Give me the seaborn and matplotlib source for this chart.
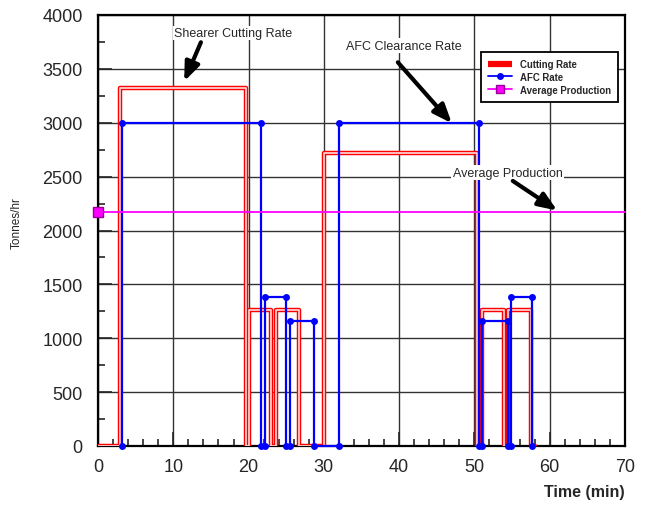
import numpy as np
import pandas as pd
import seaborn as sns
import matplotlib.pyplot as plt
from matplotlib.lines import Line2D
from matplotlib.ticker import MultipleLocator

# Shearer cutting rate (step trace, tonnes/hr)
cut_time = [0, 2.9, 2.9, 19.7, 19.7, 20.1, 20.1, 23.0, 23.0, 23.7, 23.7, 26.7, 26.7,
            30.0, 30.0, 50.3, 50.3, 51.05, 51.05, 53.95, 53.95, 54.5, 54.5, 57.5, 57.5, 58.0]
cut_rate = [0, 0, 3320, 3320, 0, 0, 1265, 1265, 0, 0, 1265, 1265, 0,
            0, 2720, 2720, 0, 0, 1265, 1265, 0, 0, 1265, 1265, 0, 0]

# AFC clearance rate (step trace, tonnes/hr)
afc_time = [3.2, 3.2, 21.7, 21.7, 22.2, 22.2, 25.0, 25.0, 25.45, 25.45, 28.75, 28.75,
            32.0, 32.0, 50.55, 50.55, 51.05, 51.05, 54.4, 54.4, 54.85, 54.85, 57.6, 57.6]
afc_rate = [0, 3000, 3000, 0, 0, 1380, 1380, 0, 0, 1163, 1163, 0,
            0, 3000, 3000, 0, 0, 1163, 1163, 0, 0, 1380, 1380, 0]

# Average production
avg_time = [0, 70]
avg_rate = [2175, 2175]

cut_df = pd.DataFrame({'Time': cut_time, 'Rate': cut_rate})
afc_df = pd.DataFrame({'Time': afc_time, 'Rate': afc_rate})
avg_df = pd.DataFrame({'Time': avg_time, 'Rate': avg_rate})

sns.set_style('ticks')
plt.rcParams['font.family'] = ['Liberation Sans', 'DejaVu Sans']

fig = plt.figure(figsize=(6.47, 5.06), dpi=100)
ax = fig.add_axes([98 / 647, 1 - 447 / 506, (625 - 98) / 647, (447 - 16) / 506])

# cutting rate drawn as a hollow red line (red with white core)
sns.lineplot(data=cut_df, x='Time', y='Rate', sort=False, estimator=None,
             color='#FF0000', lw=3.2, ax=ax, zorder=3)
sns.lineplot(data=cut_df, x='Time', y='Rate', sort=False, estimator=None,
             color='white', lw=1.3, alpha=0.8, ax=ax, zorder=3.1)

sns.lineplot(data=afc_df, x='Time', y='Rate', sort=False, estimator=None,
             color='#0000FF', lw=1.6, marker='o', markersize=5, markeredgewidth=0,
             ax=ax, zorder=4, clip_on=False)

sns.lineplot(data=avg_df, x='Time', y='Rate', sort=False, estimator=None,
             color='#FF00FF', lw=1.3, marker='s', markersize=7, markevery=[0],
             markerfacecolor='#FF00FF', markeredgecolor='#990099', markeredgewidth=1,
             ax=ax, zorder=5, clip_on=False)

ax.set_xlim(0, 70)
ax.set_ylim(0, 4000)
ax.xaxis.set_major_locator(MultipleLocator(10))
ax.xaxis.set_minor_locator(MultipleLocator(2))
ax.yaxis.set_major_locator(MultipleLocator(500))
ax.yaxis.set_minor_locator(MultipleLocator(250))
ax.grid(True, which='major', color='#333333', lw=1)
ax.set_axisbelow(True)
ax.tick_params(which='major', direction='in', length=10, width=1.2, labelsize=13, pad=9)
ax.tick_params(which='minor', direction='in', length=5, width=1.2)
ax.tick_params(axis='y', pad=11)
for s in ax.spines.values():
    s.set_linewidth(1.6)
    s.set_color('black')

ax.set_ylabel('Tonnes/hr', fontsize=8.5)
ax.yaxis.set_label_coords(-0.142, 0.52)
ax.set_xlabel('Time (min)', fontsize=11.5, fontweight='bold')
ax.xaxis.set_label_coords(1.0, -0.088)
ax.xaxis.label.set_horizontalalignment('right')
ax.xaxis.label.set_verticalalignment('top')

# annotations
box = dict(facecolor='white', edgecolor='none', pad=1)
arrow = dict(arrowstyle='-|>,head_length=0.7,head_width=0.28', lw=3, color='black',
             mutation_scale=16, shrinkA=0, shrinkB=0)
ax.text(17.97, 3833, 'Shearer Cutting Rate', fontsize=9, ha='center', va='center', bbox=box, zorder=6)
ax.annotate('', xy=(11.45, 3384), xytext=(13.67, 3747), arrowprops=arrow, zorder=6)
ax.text(40.6, 3715, 'AFC Clearance Rate', fontsize=9, ha='center', va='center', bbox=box, zorder=6)
ax.annotate('', xy=(47.0, 2995), xytext=(39.83, 3561), arrowprops=arrow, zorder=6)
ax.text(54.4, 2535, 'Average Production', fontsize=9, ha='center', va='center', bbox=box, zorder=6)
ax.annotate('', xy=(61.0, 2185), xytext=(55.1, 2460), arrowprops=arrow, zorder=6)

handles = [
    Line2D([], [], color='#FF0000', lw=4.5, solid_capstyle='butt'),
    Line2D([], [], color='#0000FF', lw=1.3, marker='o', markersize=4),
    Line2D([], [], color='#FF00FF', lw=1.3, marker='s', markersize=6,
           markerfacecolor='#FF00FF', markeredgecolor='#990099'),
]
leg = ax.legend(handles, ['Cutting Rate', 'AFC Rate', 'Average Production'],
                loc='upper right', bbox_to_anchor=(0.9956, 0.926), frameon=True,
                fancybox=False, framealpha=1, edgecolor='black',
                prop={'weight': 'bold', 'size': 6.9}, handlelength=2.5,
                borderpad=0.75, labelspacing=0.3)
leg.get_frame().set_linewidth(1.3)
leg.set_zorder(7)

fig.savefig('out.png', dpi=100)
